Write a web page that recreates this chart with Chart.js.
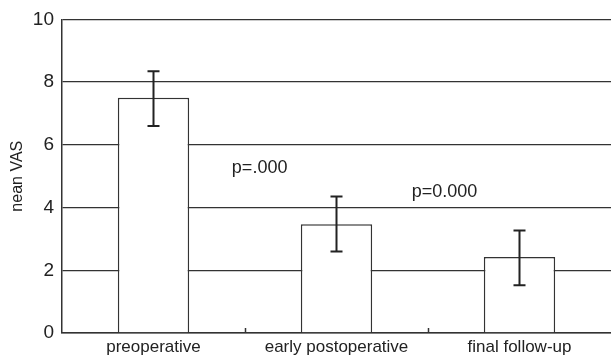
<!DOCTYPE html>
<html>
<head>
<meta charset="utf-8">
<script src="https://cdn.jsdelivr.net/npm/chart.js@4.4.1/dist/chart.umd.min.js"></script>
<style>
  html, body { margin: 0; padding: 0; background: #fff; }
  #wrap { width: 611px; height: 359px; }
</style>
</head>
<body>
<div id="wrap"><canvas id="vas-chart" width="611" height="359"></canvas></div>
<script>
// data
const categories = ['preoperative', 'early postoperative', 'final follow-up'];
const meanVas = [7.5, 3.47, 2.42];
const errUpper = [8.35, 4.35, 3.27];
const errLower = [6.6, 2.6, 1.52];
const yTicks = [0, 2, 4, 6, 8, 10];
const pLabels = ['p=.000', 'p=0.000'];

const lineColor = '#333';
const narrowFont = '"Liberation Sans Narrow", "Liberation Sans", Arial, sans-serif';

// error bars, p labels and the little category ticks on the x axis
const extrasPlugin = {
    id: 'extras',
    afterDatasetsDraw(chart) {
        const ctx = chart.ctx;
        const x = chart.scales.x;
        const y = chart.scales.y;

        ctx.save();
        ctx.strokeStyle = '#222';
        ctx.lineWidth = 2;
        meanVas.forEach((v, i) => {
            const px = x.getPixelForValue(i);
            const top = y.getPixelForValue(errUpper[i]);
            const bot = y.getPixelForValue(errLower[i]);
            ctx.beginPath();
            ctx.moveTo(px, top); ctx.lineTo(px, bot);
            ctx.moveTo(px - 6, top); ctx.lineTo(px + 6, top);
            ctx.moveTo(px - 6, bot); ctx.lineTo(px + 6, bot);
            ctx.stroke();
        });

        // ticks between categories, pointing up into the plot
        ctx.strokeStyle = lineColor;
        ctx.lineWidth = 1.5;
        for (let i = 0; i < categories.length - 1; i++) {
            const px = Math.round((x.getPixelForValue(i) + x.getPixelForValue(i + 1)) / 2) + 0.5;
            ctx.beginPath();
            ctx.moveTo(px, y.bottom);
            ctx.lineTo(px, y.bottom - 5);
            ctx.stroke();
        }

        // p values between the bars
        ctx.fillStyle = '#222';
        ctx.font = '18px ' + narrowFont;
        ctx.textAlign = 'center';
        ctx.textBaseline = 'middle';
        ctx.fillText(pLabels[0], x.getPixelForValue(0.58), y.getPixelForValue(5.27));
        ctx.fillText(pLabels[1], x.getPixelForValue(1.59), y.getPixelForValue(4.48));
        ctx.restore();
    }
};

const ctx = document.getElementById('vas-chart').getContext('2d');
new Chart(ctx, {
    type: 'bar',
    data: {
        labels: categories,
        datasets: [{
            label: 'mean VAS',
            data: meanVas,
            backgroundColor: '#fff',
            borderColor: lineColor,
            borderWidth: 1.5,
            barPercentage: 0.39,
            categoryPercentage: 1
        }]
    },
    options: {
        responsive: false,
        animation: false,
        layout: { padding: { top: 19, right: 0, left: 0, bottom: 0 } },
        plugins: {
            legend: { display: false },
            tooltip: { enabled: false }
        },
        scales: {
            x: {
                grid: { display: false, drawTicks: false },
                border: { color: lineColor, width: 1.5 },
                ticks: {
                    padding: 4,
                    color: '#222',
                    font: { family: 'Arial, "Liberation Sans", sans-serif', size: 17 }
                },
                afterFit(scale) { scale.height = 26; }
            },
            y: {
                min: 0,
                max: 10,
                afterBuildTicks(scale) { scale.ticks = yTicks.map(v => ({ value: v })); },
                grid: { color: lineColor, lineWidth: 1.3, drawTicks: false },
                border: { color: lineColor, width: 1.5 },
                ticks: {
                    padding: 8,
                    color: '#222',
                    font: { family: narrowFont, size: 19 }
                },
                title: {
                    display: true,
                    text: 'nean VAS',
                    color: '#222',
                    padding: { top: 8, bottom: 0 },
                    font: { family: 'Arial, "Liberation Sans", sans-serif', size: 16 }
                },
                afterFit(scale) { scale.width = 62; }
            }
        }
    },
    plugins: [extrasPlugin]
});
</script>
</body>
</html>
